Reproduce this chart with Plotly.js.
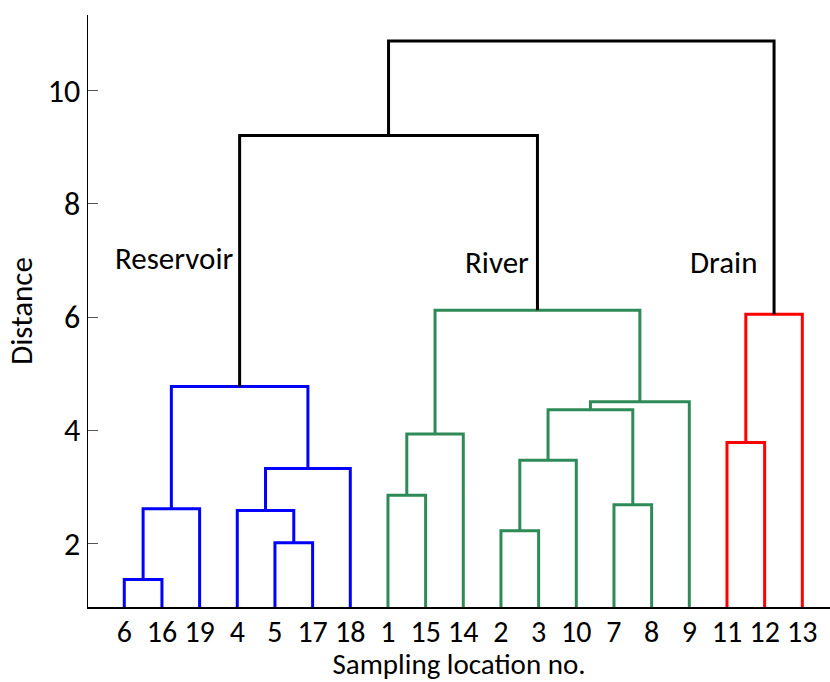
<!DOCTYPE html>
<html>
<head>
<meta charset="utf-8">
<script src="https://cdn.plot.ly/plotly-3.0.1.min.js"></script>
<style>html,body{margin:0;padding:0;background:#fff;}#chart{width:830px;height:682px;}</style>
</head>
<body>
<div id="chart"></div>
<script>
// Leaf order along the x axis (sampling location numbers)
const leafOrder = [6, 16, 19, 4, 5, 17, 18, 1, 15, 14, 2, 3, 10, 7, 8, 9, 11, 12, 13];

// Linkage: merge k creates cluster id 20+k from two children (ids 1..19 are leaves)
const mergeLeft   = [6,    5,    2,    20,   4,    7,    1,    24,   22,   11,   26,   28,   31,   23,   29,   30,   33,   36];
const mergeRight  = [16,   17,   3,    19,   21,   8,    15,   18,   10,   12,   14,   25,   9,    27,   13,   32,   35,   34];
const mergeHeight = [1.36, 2.01, 2.22, 2.61, 2.58, 2.68, 2.85, 3.32, 3.47, 3.78, 3.93, 4.36, 4.50, 4.77, 6.05, 6.12, 9.21, 10.88];
const mergeGroup  = ["Reservoir","Reservoir","River","Reservoir","Reservoir","River","River","Reservoir","River","Drain","River","River","River","Reservoir","Drain","River","top","top"];

// Group labels
const groupNames = ["Reservoir", "River", "Drain"];
const groupLabelX = [2.33, 10.89, 16.92];
const groupLabelY = [7.04, 6.97, 6.97];

const groupColors = {Reservoir: "#0000FF", River: "#2E8B57", Drain: "#FF0000", top: "#000000"};

// Compute node positions
const nodeX = {}, nodeY = {};
leafOrder.forEach((leaf, i) => { nodeX[leaf] = i + 1; nodeY[leaf] = 0; });
const segs = {Reservoir: {x: [], y: []}, River: {x: [], y: []}, Drain: {x: [], y: []}, top: {x: [], y: []}};
mergeLeft.forEach((l, k) => {
  const r = mergeRight[k], h = mergeHeight[k], id = 20 + k;
  const s = segs[mergeGroup[k]];
  s.x.push(nodeX[l], nodeX[l], nodeX[r], nodeX[r], null);
  s.y.push(nodeY[l], h, h, nodeY[r], null);
  nodeX[id] = (nodeX[l] + nodeX[r]) / 2;
  nodeY[id] = h;
});

const traces = Object.keys(segs).map(g => ({
  type: "scatter", mode: "lines", x: segs[g].x, y: segs[g].y,
  line: {color: groupColors[g], width: 3}, hoverinfo: "skip", showlegend: false
}));

const font = "Carlito, Calibri, Lato, sans-serif";
const layout = {
  width: 830, height: 682,
  margin: {l: 88, r: 0, t: 15, b: 75},
  paper_bgcolor: "#fff", plot_bgcolor: "#fff",
  font: {family: font, size: 31, color: "#000"},
  showlegend: false,
  xaxis: {
    range: [0.037, 19.735], showgrid: false, zeroline: false,
    showline: true, linecolor: "#000", linewidth: 1.5,
    tickmode: "array", tickvals: leafOrder.map((_, i) => i + 1), ticktext: leafOrder.map(String),
    ticks: "", tickfont: {family: font, size: 30}, ticklabelstandoff: -3,
    title: {text: "Sampling location no.", font: {family: font, size: 29}}
  },
  yaxis: {
    range: [0.874, 11.338], showgrid: false, zeroline: false,
    showline: true, linecolor: "#000", linewidth: 1.5,
    tickmode: "array", tickvals: [2, 4, 6, 8, 10],
    ticks: "inside", ticklen: 10, tickcolor: "#555", tickwidth: 1,
    tickfont: {family: font, size: 32},
    title: {text: "Distance", font: {family: font, size: 31}, standoff: 6}
  },
  annotations: groupNames.map((n, i) => ({
    x: groupLabelX[i], y: groupLabelY[i], xref: "x", yref: "y", text: n,
    showarrow: false, font: {family: font, size: 31, color: "#000"}
  }))
};

Plotly.newPlot("chart", traces, layout, {displayModeBar: false, staticPlot: true});
</script>
</body>
</html>
